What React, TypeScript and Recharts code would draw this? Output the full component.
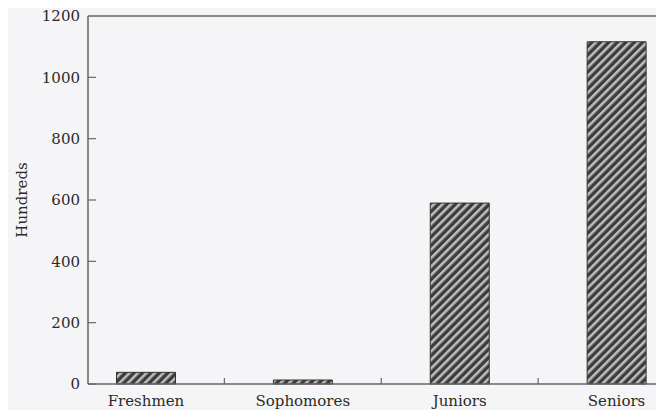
import React from 'react';
import { BarChart, Bar, XAxis, YAxis, ReferenceLine } from 'recharts';

const CLASSES = ['Freshmen', 'Sophomores', 'Juniors', 'Seniors'];
const HUNDREDS = [38, 13, 590, 1116];
const Y_TICKS = [0, 200, 400, 600, 800, 1000, 1200];

const data = CLASSES.map((name, i) => ({ name, value: HUNDREDS[i] }));

const FONT = '"DejaVu Serif", serif';
const INK = '#2a2a2a';
const AXIS = '#666';

const YTick = (props: any) => {
    const { x, y, payload } = props;
    return (
        <g>
            {payload.value !== 1200 && (
                <line x1={x + 8} x2={x + 16} y1={y} y2={y} stroke={AXIS} strokeWidth={1.2} />
            )}
            <text x={x} y={y} dy="0.36em" textAnchor="end" fontFamily={FONT} fontSize={15} fill={INK}>
                {payload.value}
            </text>
        </g>
    );
};

const XTick = (props: any) => {
    const { x, y, payload } = props;
    return (
        <text x={x} y={y} dy="0.71em" textAnchor="middle" fontFamily={FONT} fontSize={15} fill={INK}>
            {payload.value}
        </text>
    );
};

// short upward tick at the end of a category band
const BandTick = (props: any) => {
    const { x1, y1, y2 } = props;
    const bottom = Math.max(y1, y2);
    return <line x1={x1} x2={x1} y1={bottom} y2={bottom - 6} stroke={AXIS} strokeWidth={1.2} />;
};

export default function App() {
    return (
        <div style={{ margin: -8, width: 664, height: 418, overflow: 'hidden', background: '#f5f5f7' }}>
            <BarChart
                width={720}
                height={418}
                data={data}
                margin={{ top: 16, right: 25, bottom: 0, left: 0 }}
            >
                <defs>
                    <pattern id="hatch" width="6" height="6" patternUnits="userSpaceOnUse" patternTransform="rotate(45)">
                        <rect width="6" height="6" fill="#3c3c3c" />
                        <rect width="2.6" height="6" fill="#bdbdbd" />
                    </pattern>
                </defs>
                <XAxis
                    dataKey="name"
                    height={34}
                    padding={{ left: -20.5, right: 0 }}
                    tickLine={false}
                    tickSize={0}
                    tickMargin={11}
                    axisLine={{ stroke: AXIS, strokeWidth: 1.5 }}
                    tick={<XTick />}
                    interval={0}
                />
                <YAxis
                    width={88}
                    domain={[0, 1200]}
                    ticks={Y_TICKS}
                    tickLine={false}
                    tickSize={0}
                    tickMargin={8}
                    axisLine={{ stroke: AXIS, strokeWidth: 1.5 }}
                    tick={<YTick />}
                    label={{
                        content: (p: any) => {
                            const vb = p.viewBox;
                            const cx = vb.x + 22;
                            const cy = vb.y + vb.height / 2;
                            return (
                                <text
                                    x={cx}
                                    y={cy}
                                    transform={`rotate(-90, ${cx}, ${cy})`}
                                    textAnchor="middle"
                                    dominantBaseline="central"
                                    fontFamily={FONT}
                                    fontSize={15}
                                    fill={INK}
                                >
                                    Hundreds
                                </text>
                            );
                        },
                    }}
                />
                <ReferenceLine y={1200} stroke={AXIS} strokeWidth={1.5} />
                {CLASSES.slice(0, 3).map((c) => (
                    <ReferenceLine key={c} x={c} position="end" shape={<BandTick />} />
                ))}
                <Bar
                    dataKey="value"
                    barSize={59}
                    fill="url(#hatch)"
                    stroke="#333"
                    strokeWidth={1}
                    isAnimationActive={false}
                />
            </BarChart>
        </div>
    );
}
